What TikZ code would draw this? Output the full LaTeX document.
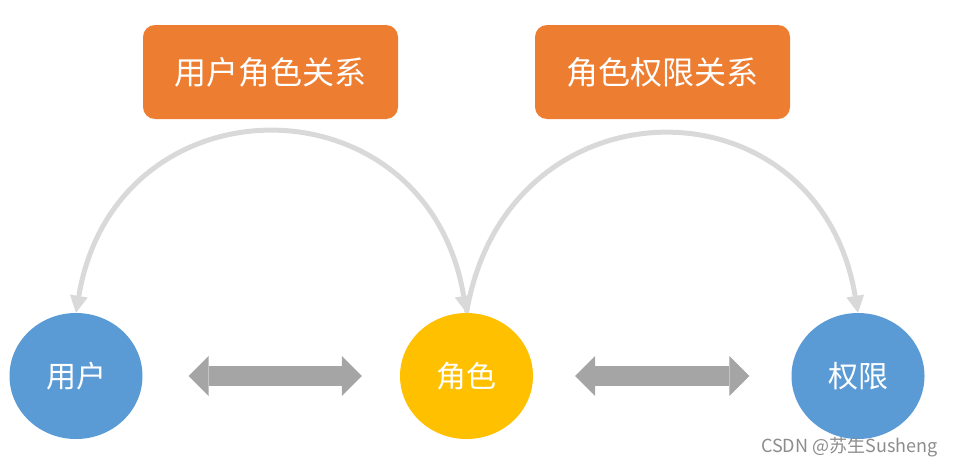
\documentclass[tikz,border=0pt]{standalone}
\usepackage{fontspec}
\setmainfont{Noto Sans CJK SC}
\usepackage{tikz}
\usetikzlibrary{arrows.meta,shapes.geometric}

\definecolor{azul}{HTML}{5B9BD5}
\definecolor{amarelo}{HTML}{FFC000}
\definecolor{laranja}{HTML}{ED7D31}
\definecolor{cinza}{HTML}{A5A5A5}
\definecolor{cinzaclaro}{HTML}{D9D9D9}
\definecolor{marca}{HTML}{8C8C8C}

\begin{document}
\begin{tikzpicture}[x=1pt,y=-1pt,
        circulo/.style={ellipse,minimum width=133pt,minimum height=126pt,inner sep=0pt,
            text=white,font=\fontsize{30}{30}\selectfont},
        caixa/.style={rectangle,rounded corners=12pt,fill=laranja,minimum width=255pt,
            minimum height=94pt,text=white,font=\fontsize{32}{32}\selectfont},
        arco/.style={cinzaclaro,line width=5pt,>={Triangle[length=17pt,width=18pt,line width=0pt]}},
        seta/.style={cinza,line width=20pt,>={Triangle[length=20pt,width=40pt,line width=0pt]},<->}]
        \useasboundingbox (0,0) rectangle (955,466);

        % Entidades
        \node[circulo,fill=azul] (usuario) at (76,376) {用户};
        \node[circulo,fill=amarelo] (papel) at (466.5,376) {角色};
        \node[circulo,fill=azul] (permissao) at (858,376) {权限};

        % Relações
        \node[caixa] (usuariopapel) at (270.5,72) {用户角色关系};
        \node[caixa] (papelpermissao) at (662.5,72) {角色权限关系};

        % Arcos
        \draw[arco,<->] (usuario.north) .. controls +(40,-238) and +(-40,-238) .. (papel.north);
        \draw[arco,->] (papel.north) .. controls +(40,-238) and +(-40,-238) .. (permissao.north);

        % Setas duplas
        \draw[seta,shorten <=46pt,shorten >=38pt] (usuario) -- (papel);
        \draw[seta,shorten <=42pt,shorten >=42pt] (papel) -- (permissao);

        % Marca
        \node[text=marca,font=\fontsize{18}{18}\selectfont,anchor=east] (assinatura) at (941,447) {CSDN @苏生Susheng};
\end{tikzpicture}
\end{document}
